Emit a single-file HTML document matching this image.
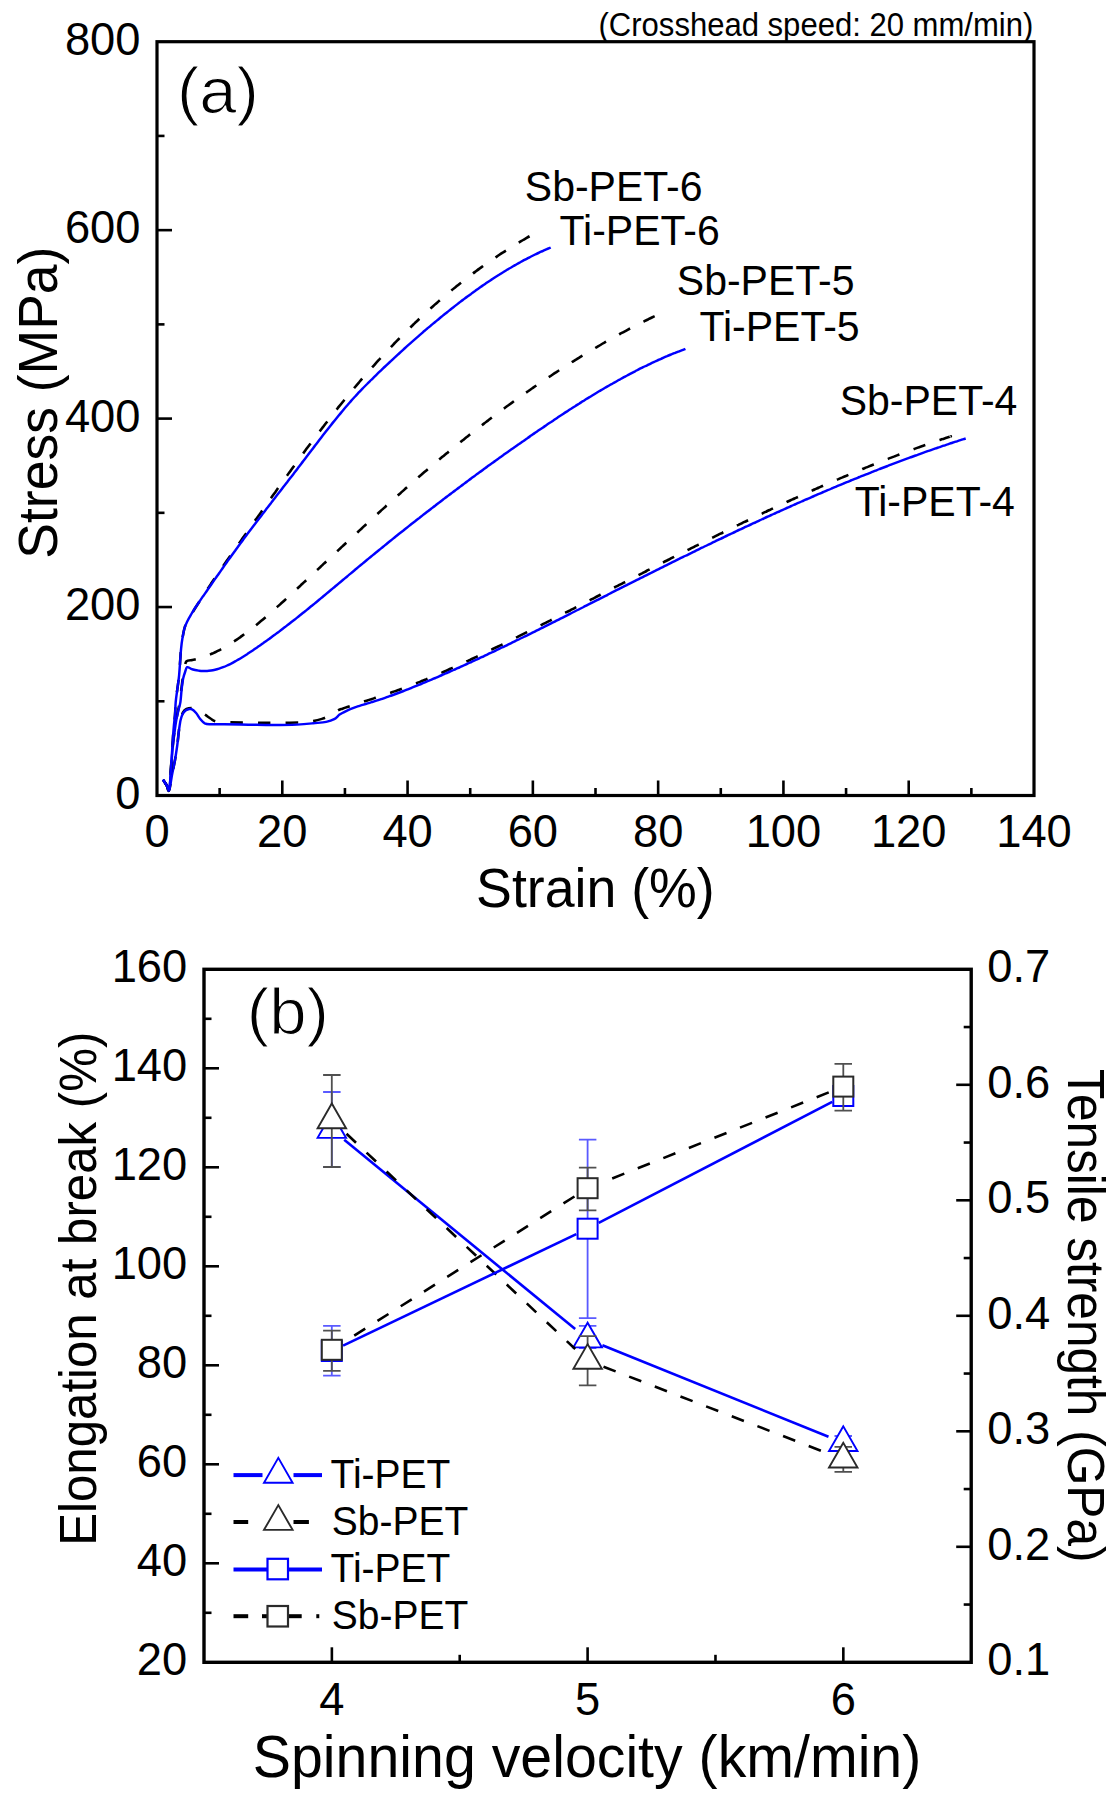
<!DOCTYPE html>
<html><head><meta charset="utf-8"><style>
html,body{margin:0;padding:0;background:#fff;}
svg{display:block;}
text{font-family:"Liberation Sans", sans-serif;stroke:#fff;}
</style></head><body>
<svg width="1114" height="1793" viewBox="0 0 1114 1793">
<rect width="1114" height="1793" fill="#fff"/>
<line x1="157.00" y1="701.27" x2="164.50" y2="701.27" stroke="#000" stroke-width="2.6" />
<line x1="157.00" y1="607.05" x2="172.00" y2="607.05" stroke="#000" stroke-width="2.6" />
<line x1="157.00" y1="512.83" x2="164.50" y2="512.83" stroke="#000" stroke-width="2.6" />
<line x1="157.00" y1="418.60" x2="172.00" y2="418.60" stroke="#000" stroke-width="2.6" />
<line x1="157.00" y1="324.38" x2="164.50" y2="324.38" stroke="#000" stroke-width="2.6" />
<line x1="157.00" y1="230.15" x2="172.00" y2="230.15" stroke="#000" stroke-width="2.6" />
<line x1="157.00" y1="135.92" x2="164.50" y2="135.92" stroke="#000" stroke-width="2.6" />
<line x1="219.64" y1="795.50" x2="219.64" y2="788.00" stroke="#000" stroke-width="2.6" />
<line x1="282.29" y1="795.50" x2="282.29" y2="780.50" stroke="#000" stroke-width="2.6" />
<line x1="344.93" y1="795.50" x2="344.93" y2="788.00" stroke="#000" stroke-width="2.6" />
<line x1="407.57" y1="795.50" x2="407.57" y2="780.50" stroke="#000" stroke-width="2.6" />
<line x1="470.21" y1="795.50" x2="470.21" y2="788.00" stroke="#000" stroke-width="2.6" />
<line x1="532.86" y1="795.50" x2="532.86" y2="780.50" stroke="#000" stroke-width="2.6" />
<line x1="595.50" y1="795.50" x2="595.50" y2="788.00" stroke="#000" stroke-width="2.6" />
<line x1="658.14" y1="795.50" x2="658.14" y2="780.50" stroke="#000" stroke-width="2.6" />
<line x1="720.79" y1="795.50" x2="720.79" y2="788.00" stroke="#000" stroke-width="2.6" />
<line x1="783.43" y1="795.50" x2="783.43" y2="780.50" stroke="#000" stroke-width="2.6" />
<line x1="846.07" y1="795.50" x2="846.07" y2="788.00" stroke="#000" stroke-width="2.6" />
<line x1="908.71" y1="795.50" x2="908.71" y2="780.50" stroke="#000" stroke-width="2.6" />
<line x1="971.36" y1="795.50" x2="971.36" y2="788.00" stroke="#000" stroke-width="2.6" />
<text transform="translate(140.50,808.70) scale(1,1.04)" font-size="45.3" text-anchor="end" fill="#000" stroke-width="0.0">0</text>
<text transform="translate(140.50,620.25) scale(1,1.04)" font-size="45.3" text-anchor="end" fill="#000" stroke-width="0.0">200</text>
<text transform="translate(140.50,431.80) scale(1,1.04)" font-size="45.3" text-anchor="end" fill="#000" stroke-width="0.0">400</text>
<text transform="translate(140.50,243.35) scale(1,1.04)" font-size="45.3" text-anchor="end" fill="#000" stroke-width="0.0">600</text>
<text transform="translate(140.50,54.90) scale(1,1.04)" font-size="45.3" text-anchor="end" fill="#000" stroke-width="0.0">800</text>
<text transform="translate(157.00,847.20) scale(1,1.04)" font-size="45.3" text-anchor="middle" fill="#000" stroke-width="0.0">0</text>
<text transform="translate(282.29,847.20) scale(1,1.04)" font-size="45.3" text-anchor="middle" fill="#000" stroke-width="0.0">20</text>
<text transform="translate(407.57,847.20) scale(1,1.04)" font-size="45.3" text-anchor="middle" fill="#000" stroke-width="0.0">40</text>
<text transform="translate(532.86,847.20) scale(1,1.04)" font-size="45.3" text-anchor="middle" fill="#000" stroke-width="0.0">60</text>
<text transform="translate(658.14,847.20) scale(1,1.04)" font-size="45.3" text-anchor="middle" fill="#000" stroke-width="0.0">80</text>
<text transform="translate(783.43,847.20) scale(1,1.04)" font-size="45.3" text-anchor="middle" fill="#000" stroke-width="0.0">100</text>
<text transform="translate(908.71,847.20) scale(1,1.04)" font-size="45.3" text-anchor="middle" fill="#000" stroke-width="0.0">120</text>
<text transform="translate(1034.00,847.20) scale(1,1.04)" font-size="45.3" text-anchor="middle" fill="#000" stroke-width="0.0">140</text>
<text transform="translate(57.00,558.70) rotate(-90) scale(1,1.04)" font-size="53.5" text-anchor="start" fill="#000" stroke-width="0.0">Stress (MPa)</text>
<text transform="translate(476.10,907.00) scale(1,1.04)" font-size="53.7" text-anchor="start" fill="#000" stroke-width="0.0">Strain (%)</text>
<text transform="translate(177.0,113.2) scale(1.022,1)" font-size="65.5" stroke-width="1.2">(a)</text>
<text transform="translate(598.50,35.50) scale(1,1.04)" font-size="31.06" text-anchor="start" fill="#000" stroke-width="0.0">(Crosshead speed: 20 mm/min)</text>
<text transform="translate(524.80,201.00) scale(1,1.04)" font-size="41" text-anchor="start" fill="#000" stroke-width="0.0">Sb-PET-6</text>
<text transform="translate(559.60,244.50) scale(1,1.04)" font-size="41" text-anchor="start" fill="#000" stroke-width="0.0">Ti-PET-6</text>
<text transform="translate(676.80,294.80) scale(1,1.04)" font-size="41" text-anchor="start" fill="#000" stroke-width="0.0">Sb-PET-5</text>
<text transform="translate(699.50,341.20) scale(1,1.04)" font-size="41" text-anchor="start" fill="#000" stroke-width="0.0">Ti-PET-5</text>
<text transform="translate(839.70,415.00) scale(1,1.04)" font-size="41" text-anchor="start" fill="#000" stroke-width="0.0">Sb-PET-4</text>
<text transform="translate(854.70,515.70) scale(1,1.04)" font-size="41" text-anchor="start" fill="#000" stroke-width="0.0">Ti-PET-4</text>
<path d="M163.0,779.6 C163.6,780.5 165.4,783.5 166.5,785.0 C167.6,786.5 168.5,790.5 169.4,788.8 C170.3,787.1 171.1,779.8 172.0,775.0 C172.9,770.2 174.1,765.0 175.0,760.0 C175.9,755.0 176.6,750.0 177.3,745.0 C178.0,740.0 178.4,734.2 179.0,730.0 C179.6,725.8 179.9,722.9 180.6,720.0 C181.3,717.1 182.0,714.3 183.0,712.5 C184.0,710.7 184.9,709.7 186.5,709.0 C188.1,708.3 190.6,707.9 192.5,708.1 C194.4,708.4 195.9,709.4 198.0,710.5 C200.1,711.6 202.7,713.3 204.8,714.6 C206.9,715.9 208.6,717.3 210.5,718.5 C212.4,719.7 213.2,721.0 216.5,721.6 C219.8,722.2 222.8,722.2 230.0,722.4 C237.2,722.6 250.0,722.8 260.0,722.8 C270.0,722.8 281.7,722.9 290.0,722.7 C298.3,722.5 304.5,722.3 310.0,721.6 C315.5,720.9 319.3,719.7 322.8,718.6 C326.3,717.5 328.4,716.2 331.0,714.8 C333.6,713.4 336.6,711.2 338.5,710.2 C340.4,709.2 341.2,709.2 342.5,708.7 C343.8,708.2 345.2,707.7 346.5,707.3 C347.8,706.8 349.2,706.3 350.5,705.9 C351.8,705.4 353.2,705.0 354.5,704.6 C355.8,704.1 357.2,703.7 358.5,703.3 C359.8,702.9 361.2,702.4 362.5,702.0 C363.8,701.6 365.2,701.1 366.5,700.7 C367.8,700.3 369.2,699.9 370.5,699.4 C371.8,699.0 373.2,698.6 374.5,698.1 C375.8,697.7 377.2,697.3 378.5,696.8 C379.8,696.4 381.2,695.9 382.5,695.5 C383.8,695.1 385.2,694.6 386.5,694.2 C387.8,693.7 389.2,693.2 390.5,692.8 C391.8,692.3 393.2,691.9 394.5,691.4 C395.8,690.9 397.2,690.5 398.5,690.0 C399.8,689.5 401.2,689.0 402.5,688.5 C403.8,688.0 405.2,687.5 406.5,687.0 C407.8,686.5 409.2,686.0 410.5,685.5 C411.8,685.0 413.2,684.5 414.5,684.0 C415.8,683.5 417.2,682.9 418.5,682.4 C419.8,681.9 421.2,681.3 422.5,680.8 C423.8,680.3 425.2,679.7 426.5,679.2 C427.8,678.6 429.2,678.1 430.5,677.5 C431.8,676.9 433.2,676.4 434.5,675.8 C435.8,675.3 437.2,674.7 438.5,674.1 C439.8,673.5 441.2,673.0 442.5,672.4 C443.8,671.8 445.2,671.2 446.5,670.6 C447.8,670.0 449.2,669.4 450.5,668.8 C451.8,668.2 453.2,667.6 454.5,667.0 C455.8,666.4 457.2,665.8 458.5,665.2 C459.8,664.6 461.2,664.0 462.5,663.4 C463.8,662.8 465.2,662.2 466.5,661.5 C467.8,660.9 469.2,660.3 470.5,659.7 C471.8,659.0 473.2,658.4 474.5,657.8 C475.8,657.2 477.2,656.5 478.5,655.9 C479.8,655.3 481.2,654.6 482.5,654.0 C483.8,653.3 485.2,652.7 486.5,652.1 C487.8,651.4 489.2,650.8 490.5,650.1 C491.8,649.5 493.2,648.9 494.5,648.2 C495.8,647.6 497.2,646.9 498.5,646.3 C499.8,645.6 501.2,645.0 502.5,644.3 C503.8,643.7 505.2,643.0 506.5,642.4 C507.8,641.7 509.2,641.0 510.5,640.4 C511.8,639.7 513.2,639.1 514.5,638.4 C515.8,637.8 517.2,637.1 518.5,636.4 C519.8,635.8 521.2,635.1 522.5,634.4 C523.8,633.8 525.2,633.1 526.5,632.4 C527.8,631.8 529.2,631.1 530.5,630.4 C531.8,629.8 533.2,629.1 534.5,628.4 C535.8,627.8 537.2,627.1 538.5,626.4 C539.8,625.8 541.2,625.1 542.5,624.4 C543.8,623.7 545.2,623.1 546.5,622.4 C547.8,621.7 549.2,621.0 550.5,620.4 C551.8,619.7 553.2,619.0 554.5,618.3 C555.8,617.6 557.2,617.0 558.5,616.3 C559.8,615.6 561.2,614.9 562.5,614.2 C563.8,613.6 565.2,612.9 566.5,612.2 C567.8,611.5 569.2,610.8 570.5,610.2 C571.8,609.5 573.2,608.8 574.5,608.1 C575.8,607.4 577.2,606.7 578.5,606.1 C579.8,605.4 581.2,604.7 582.5,604.0 C583.8,603.3 585.2,602.6 586.5,601.9 C587.8,601.3 589.2,600.6 590.5,599.9 C591.8,599.2 593.2,598.5 594.5,597.8 C595.8,597.1 597.2,596.4 598.5,595.8 C599.8,595.1 601.2,594.4 602.5,593.7 C603.8,593.0 605.2,592.3 606.5,591.6 C607.8,590.9 609.2,590.2 610.5,589.6 C611.8,588.9 613.2,588.2 614.5,587.5 C615.8,586.8 617.2,586.1 618.5,585.4 C619.8,584.7 621.2,584.1 622.5,583.4 C623.8,582.7 625.2,582.0 626.5,581.3 C627.8,580.6 629.2,579.9 630.5,579.2 C631.8,578.5 633.2,577.9 634.5,577.2 C635.8,576.5 637.2,575.8 638.5,575.1 C639.8,574.4 641.2,573.7 642.5,573.1 C643.8,572.4 645.2,571.7 646.5,571.0 C647.8,570.3 649.2,569.6 650.5,568.9 C651.8,568.3 653.2,567.6 654.5,566.9 C655.8,566.2 657.2,565.5 658.5,564.8 C659.8,564.2 661.2,563.5 662.5,562.8 C663.8,562.1 665.2,561.4 666.5,560.8 C667.8,560.1 669.2,559.4 670.5,558.7 C671.8,558.0 673.2,557.4 674.5,556.7 C675.8,556.0 677.2,555.3 678.5,554.7 C679.8,554.0 681.2,553.3 682.5,552.6 C683.8,552.0 685.2,551.3 686.5,550.6 C687.8,549.9 689.2,549.3 690.5,548.6 C691.8,547.9 693.2,547.3 694.5,546.6 C695.8,545.9 697.2,545.3 698.5,544.6 C699.8,543.9 701.2,543.3 702.5,542.6 C703.8,541.9 705.2,541.3 706.5,540.6 C707.8,539.9 709.2,539.3 710.5,538.6 C711.8,537.9 713.2,537.3 714.5,536.6 C715.8,536.0 717.2,535.3 718.5,534.6 C719.8,534.0 721.2,533.3 722.5,532.7 C723.8,532.0 725.2,531.4 726.5,530.7 C727.8,530.1 729.2,529.4 730.5,528.8 C731.8,528.1 733.2,527.5 734.5,526.8 C735.8,526.2 737.2,525.5 738.5,524.9 C739.8,524.2 741.2,523.6 742.5,522.9 C743.8,522.3 745.2,521.6 746.5,521.0 C747.8,520.4 749.2,519.7 750.5,519.1 C751.8,518.4 753.2,517.8 754.5,517.2 C755.8,516.5 757.2,515.9 758.5,515.3 C759.8,514.6 761.2,514.0 762.5,513.4 C763.8,512.7 765.2,512.1 766.5,511.5 C767.8,510.8 769.2,510.2 770.5,509.6 C771.8,509.0 773.2,508.3 774.5,507.7 C775.8,507.1 777.2,506.5 778.5,505.9 C779.8,505.2 781.2,504.6 782.5,504.0 C783.8,503.4 785.2,502.8 786.5,502.2 C787.8,501.5 789.2,500.9 790.5,500.3 C791.8,499.7 793.2,499.1 794.5,498.5 C795.8,497.9 797.2,497.3 798.5,496.7 C799.8,496.1 801.2,495.5 802.5,494.9 C803.8,494.3 805.2,493.7 806.5,493.1 C807.8,492.5 809.2,491.9 810.5,491.3 C811.8,490.7 813.2,490.1 814.5,489.5 C815.8,488.9 817.2,488.3 818.5,487.7 C819.8,487.1 821.2,486.6 822.5,486.0 C823.8,485.4 825.2,484.8 826.5,484.2 C827.8,483.6 829.2,483.1 830.5,482.5 C831.8,481.9 833.2,481.3 834.5,480.8 C835.8,480.2 837.2,479.6 838.5,479.1 C839.8,478.5 841.2,477.9 842.5,477.4 C843.8,476.8 845.2,476.2 846.5,475.7 C847.8,475.1 849.2,474.5 850.5,474.0 C851.8,473.4 853.2,472.9 854.5,472.3 C855.8,471.8 857.2,471.2 858.5,470.7 C859.8,470.1 861.2,469.6 862.5,469.0 C863.8,468.5 865.2,467.9 866.5,467.4 C867.8,466.9 869.2,466.3 870.5,465.8 C871.8,465.2 873.2,464.7 874.5,464.2 C875.8,463.6 877.2,463.1 878.5,462.6 C879.8,462.1 881.2,461.5 882.5,461.0 C883.8,460.5 885.2,460.0 886.5,459.4 C887.8,458.9 889.2,458.4 890.5,457.9 C891.8,457.4 893.2,456.9 894.5,456.4 C895.8,455.8 897.2,455.3 898.5,454.8 C899.8,454.3 901.2,453.8 902.5,453.3 C903.8,452.8 905.2,452.3 906.5,451.8 C907.8,451.3 909.2,450.8 910.5,450.4 C911.8,449.9 913.2,449.4 914.5,448.9 C915.8,448.4 917.2,447.9 918.5,447.4 C919.8,447.0 921.2,446.5 922.5,446.0 C923.8,445.5 925.2,445.1 926.5,444.6 C927.8,444.1 929.2,443.6 930.5,443.2 C931.8,442.7 933.2,442.3 934.5,441.8 C935.8,441.3 937.2,440.9 938.5,440.4 C939.8,440.0 941.2,439.5 942.5,439.1 C943.8,438.6 945.2,438.2 946.5,437.7 C947.8,437.3 949.8,436.6 950.5,436.4 C951.2,436.2 950.6,436.4 950.6,436.4" fill="none" stroke="#000000" stroke-width="2.6" stroke-linejoin="round" stroke-dasharray="12.5 15.014" stroke-dashoffset="22.83"/>
<path d="M163.0,779.6 C163.6,780.5 165.4,783.5 166.5,785.0 C167.6,786.5 168.5,790.5 169.4,788.8 C170.3,787.1 171.1,779.8 172.0,775.0 C172.9,770.2 174.1,765.0 175.0,760.0 C175.9,755.0 176.6,750.0 177.3,745.0 C178.0,740.0 178.4,734.2 179.0,730.0 C179.6,725.8 180.0,722.7 180.6,720.0 C181.2,717.3 182.0,715.4 182.8,713.8 C183.6,712.2 184.6,711.3 185.5,710.5 C186.4,709.7 187.5,709.4 188.5,709.2 C189.5,709.0 190.2,708.6 191.5,709.2 C192.8,709.8 194.7,711.4 196.1,713.0 C197.5,714.6 198.8,717.3 200.2,719.0 C201.6,720.7 203.1,722.4 204.8,723.3 C206.6,724.2 207.5,724.1 210.7,724.3 C213.9,724.4 217.9,724.1 224.2,724.2 C230.5,724.3 240.4,724.6 248.5,724.7 C256.6,724.8 264.6,725.0 272.7,725.0 C280.8,725.0 290.2,724.9 296.9,724.6 C303.6,724.3 308.2,723.8 313.1,723.3 C318.0,722.8 322.7,722.6 326.2,721.9 C329.7,721.2 332.0,720.4 334.2,719.2 C336.4,718.0 338.0,715.8 339.6,714.6 C341.2,713.5 342.3,713.0 343.6,712.3 C344.9,711.6 346.3,710.9 347.6,710.3 C348.9,709.7 350.3,709.1 351.6,708.6 C352.9,708.1 354.3,707.6 355.6,707.1 C356.9,706.7 358.3,706.2 359.6,705.8 C360.9,705.4 362.3,705.0 363.6,704.6 C364.9,704.2 366.3,703.8 367.6,703.4 C368.9,703.0 370.3,702.6 371.6,702.2 C372.9,701.8 374.3,701.4 375.6,700.9 C376.9,700.5 378.3,700.1 379.6,699.6 C380.9,699.2 382.3,698.8 383.6,698.3 C384.9,697.8 386.3,697.4 387.6,696.9 C388.9,696.4 390.3,696.0 391.6,695.5 C392.9,695.0 394.3,694.5 395.6,694.0 C396.9,693.5 398.3,693.0 399.6,692.5 C400.9,692.0 402.3,691.5 403.6,691.0 C404.9,690.5 406.3,690.0 407.6,689.4 C408.9,688.9 410.3,688.4 411.6,687.8 C412.9,687.3 414.3,686.8 415.6,686.2 C416.9,685.7 418.3,685.1 419.6,684.6 C420.9,684.0 422.3,683.5 423.6,682.9 C424.9,682.4 426.3,681.8 427.6,681.2 C428.9,680.7 430.3,680.1 431.6,679.6 C432.9,679.0 434.3,678.4 435.6,677.8 C436.9,677.3 438.3,676.7 439.6,676.1 C440.9,675.5 442.3,675.0 443.6,674.4 C444.9,673.8 446.3,673.2 447.6,672.6 C448.9,672.0 450.3,671.5 451.6,670.9 C452.9,670.3 454.3,669.7 455.6,669.1 C456.9,668.5 458.3,667.9 459.6,667.3 C460.9,666.7 462.3,666.1 463.6,665.5 C464.9,664.9 466.3,664.3 467.6,663.7 C468.9,663.1 470.3,662.4 471.6,661.8 C472.9,661.2 474.3,660.6 475.6,660.0 C476.9,659.4 478.3,658.7 479.6,658.1 C480.9,657.5 482.3,656.9 483.6,656.3 C484.9,655.6 486.3,655.0 487.6,654.4 C488.9,653.7 490.3,653.1 491.6,652.5 C492.9,651.9 494.3,651.2 495.6,650.6 C496.9,649.9 498.3,649.3 499.6,648.7 C500.9,648.0 502.3,647.4 503.6,646.8 C504.9,646.1 506.3,645.5 507.6,644.8 C508.9,644.2 510.3,643.5 511.6,642.9 C512.9,642.2 514.3,641.6 515.6,640.9 C516.9,640.3 518.3,639.6 519.6,639.0 C520.9,638.3 522.3,637.7 523.6,637.0 C524.9,636.4 526.3,635.7 527.6,635.1 C528.9,634.4 530.3,633.7 531.6,633.1 C532.9,632.4 534.3,631.8 535.6,631.1 C536.9,630.4 538.3,629.8 539.6,629.1 C540.9,628.4 542.3,627.8 543.6,627.1 C544.9,626.5 546.3,625.8 547.6,625.1 C548.9,624.5 550.3,623.8 551.6,623.1 C552.9,622.4 554.3,621.8 555.6,621.1 C556.9,620.4 558.3,619.8 559.6,619.1 C560.9,618.4 562.3,617.8 563.6,617.1 C564.9,616.4 566.3,615.7 567.6,615.1 C568.9,614.4 570.3,613.7 571.6,613.0 C572.9,612.4 574.3,611.7 575.6,611.0 C576.9,610.3 578.3,609.7 579.6,609.0 C580.9,608.3 582.3,607.6 583.6,607.0 C584.9,606.3 586.3,605.6 587.6,604.9 C588.9,604.3 590.3,603.6 591.6,602.9 C592.9,602.2 594.3,601.5 595.6,600.9 C596.9,600.2 598.3,599.5 599.6,598.8 C600.9,598.2 602.3,597.5 603.6,596.8 C604.9,596.1 606.3,595.5 607.6,594.8 C608.9,594.1 610.3,593.4 611.6,592.7 C612.9,592.1 614.3,591.4 615.6,590.7 C616.9,590.0 618.3,589.4 619.6,588.7 C620.9,588.0 622.3,587.3 623.6,586.7 C624.9,586.0 626.3,585.3 627.6,584.6 C628.9,584.0 630.3,583.3 631.6,582.6 C632.9,582.0 634.3,581.3 635.6,580.6 C636.9,579.9 638.3,579.3 639.6,578.6 C640.9,577.9 642.3,577.3 643.6,576.6 C644.9,575.9 646.3,575.3 647.6,574.6 C648.9,573.9 650.3,573.2 651.6,572.6 C652.9,571.9 654.3,571.2 655.6,570.6 C656.9,569.9 658.3,569.3 659.6,568.6 C660.9,567.9 662.3,567.3 663.6,566.6 C664.9,565.9 666.3,565.3 667.6,564.6 C668.9,564.0 670.3,563.3 671.6,562.6 C672.9,562.0 674.3,561.3 675.6,560.7 C676.9,560.0 678.3,559.3 679.6,558.7 C680.9,558.0 682.3,557.4 683.6,556.7 C684.9,556.1 686.3,555.4 687.6,554.8 C688.9,554.1 690.3,553.4 691.6,552.8 C692.9,552.1 694.3,551.5 695.6,550.8 C696.9,550.2 698.3,549.5 699.6,548.9 C700.9,548.2 702.3,547.6 703.6,547.0 C704.9,546.3 706.3,545.7 707.6,545.0 C708.9,544.4 710.3,543.7 711.6,543.1 C712.9,542.4 714.3,541.8 715.6,541.2 C716.9,540.5 718.3,539.9 719.6,539.2 C720.9,538.6 722.3,538.0 723.6,537.3 C724.9,536.7 726.3,536.1 727.6,535.4 C728.9,534.8 730.3,534.2 731.6,533.5 C732.9,532.9 734.3,532.3 735.6,531.6 C736.9,531.0 738.3,530.4 739.6,529.7 C740.9,529.1 742.3,528.5 743.6,527.9 C744.9,527.2 746.3,526.6 747.6,526.0 C748.9,525.4 750.3,524.8 751.6,524.1 C752.9,523.5 754.3,522.9 755.6,522.3 C756.9,521.7 758.3,521.0 759.6,520.4 C760.9,519.8 762.3,519.2 763.6,518.6 C764.9,518.0 766.3,517.4 767.6,516.7 C768.9,516.1 770.3,515.5 771.6,514.9 C772.9,514.3 774.3,513.7 775.6,513.1 C776.9,512.5 778.3,511.9 779.6,511.3 C780.9,510.7 782.3,510.1 783.6,509.5 C784.9,508.9 786.3,508.3 787.6,507.7 C788.9,507.1 790.3,506.5 791.6,505.9 C792.9,505.3 794.3,504.7 795.6,504.1 C796.9,503.5 798.3,502.9 799.6,502.4 C800.9,501.8 802.3,501.2 803.6,500.6 C804.9,500.0 806.3,499.4 807.6,498.8 C808.9,498.3 810.3,497.7 811.6,497.1 C812.9,496.5 814.3,496.0 815.6,495.4 C816.9,494.8 818.3,494.2 819.6,493.7 C820.9,493.1 822.3,492.5 823.6,491.9 C824.9,491.4 826.3,490.8 827.6,490.2 C828.9,489.7 830.3,489.1 831.6,488.5 C832.9,488.0 834.3,487.4 835.6,486.9 C836.9,486.3 838.3,485.7 839.6,485.2 C840.9,484.6 842.3,484.1 843.6,483.5 C844.9,483.0 846.3,482.4 847.6,481.9 C848.9,481.3 850.3,480.8 851.6,480.2 C852.9,479.7 854.3,479.1 855.6,478.6 C856.9,478.1 858.3,477.5 859.6,477.0 C860.9,476.4 862.3,475.9 863.6,475.4 C864.9,474.8 866.3,474.3 867.6,473.8 C868.9,473.2 870.3,472.7 871.6,472.2 C872.9,471.7 874.3,471.1 875.6,470.6 C876.9,470.1 878.3,469.6 879.6,469.0 C880.9,468.5 882.3,468.0 883.6,467.5 C884.9,467.0 886.3,466.5 887.6,466.0 C888.9,465.4 890.3,464.9 891.6,464.4 C892.9,463.9 894.3,463.4 895.6,462.9 C896.9,462.4 898.3,461.9 899.6,461.4 C900.9,460.9 902.3,460.4 903.6,459.9 C904.9,459.4 906.3,458.9 907.6,458.4 C908.9,457.9 910.3,457.5 911.6,457.0 C912.9,456.5 914.3,456.0 915.6,455.5 C916.9,455.0 918.3,454.6 919.6,454.1 C920.9,453.6 922.3,453.1 923.6,452.6 C924.9,452.2 926.3,451.7 927.6,451.2 C928.9,450.8 930.3,450.3 931.6,449.8 C932.9,449.4 934.3,448.9 935.6,448.4 C936.9,448.0 938.3,447.5 939.6,447.1 C940.9,446.6 942.3,446.2 943.6,445.7 C944.9,445.3 946.3,444.8 947.6,444.4 C948.9,443.9 950.3,443.5 951.6,443.0 C952.9,442.6 954.3,442.2 955.6,441.7 C956.9,441.3 958.3,440.8 959.6,440.4 C960.9,440.0 962.6,439.4 963.6,439.1 C964.6,438.8 965.4,438.6 965.7,438.5" fill="none" stroke="#0000ff" stroke-width="2.45" stroke-linejoin="round"/>
<path d="M163.0,779.6 C163.6,780.5 165.4,783.5 166.5,785.0 C167.6,786.5 168.4,794.6 169.4,788.8 C170.4,783.0 171.3,760.6 172.3,750.0 C173.3,739.4 174.4,731.3 175.3,725.0 C176.2,718.7 177.0,716.2 177.8,712.0 C178.6,707.8 179.6,704.0 180.2,700.0 C180.8,696.0 181.0,691.8 181.5,688.0 C182.0,684.2 182.4,680.5 183.0,677.0 C183.6,673.5 184.2,669.6 184.8,667.0 C185.4,664.4 185.2,662.5 186.5,661.3 C187.8,660.1 190.8,660.4 192.4,660.0 C194.1,659.6 195.1,659.4 196.4,659.1 C197.7,658.8 199.1,658.4 200.4,658.0 C201.7,657.6 203.1,657.1 204.4,656.7 C205.7,656.2 207.1,655.7 208.4,655.2 C209.7,654.6 211.1,654.1 212.4,653.5 C213.7,652.9 215.1,652.3 216.4,651.6 C217.7,650.9 219.1,650.3 220.4,649.6 C221.7,648.8 223.1,648.1 224.4,647.4 C225.7,646.6 227.1,645.8 228.4,645.0 C229.7,644.2 231.1,643.3 232.4,642.5 C233.7,641.6 235.1,640.8 236.4,639.9 C237.7,639.0 239.1,638.0 240.4,637.1 C241.7,636.1 243.1,635.2 244.4,634.2 C245.7,633.2 247.1,632.2 248.4,631.2 C249.7,630.2 251.1,629.1 252.4,628.1 C253.7,627.0 255.1,626.0 256.4,624.9 C257.7,623.8 259.1,622.7 260.4,621.6 C261.7,620.5 263.1,619.4 264.4,618.2 C265.7,617.1 267.1,615.9 268.4,614.8 C269.7,613.6 271.1,612.5 272.4,611.3 C273.7,610.1 275.1,608.9 276.4,607.7 C277.7,606.5 279.1,605.3 280.4,604.1 C281.7,602.9 283.1,601.7 284.4,600.5 C285.7,599.3 287.1,598.0 288.4,596.8 C289.7,595.6 291.1,594.3 292.4,593.1 C293.7,591.9 295.1,590.6 296.4,589.4 C297.7,588.2 299.1,586.9 300.4,585.7 C301.7,584.4 303.1,583.2 304.4,581.9 C305.7,580.7 307.1,579.5 308.4,578.2 C309.7,577.0 311.1,575.7 312.4,574.5 C313.7,573.2 315.1,572.0 316.4,570.7 C317.7,569.5 319.1,568.2 320.4,567.0 C321.7,565.7 323.1,564.5 324.4,563.2 C325.7,562.0 327.1,560.7 328.4,559.5 C329.7,558.3 331.1,557.0 332.4,555.8 C333.7,554.5 335.1,553.3 336.4,552.0 C337.7,550.8 339.1,549.5 340.4,548.3 C341.7,547.0 343.1,545.8 344.4,544.5 C345.7,543.3 347.1,542.0 348.4,540.8 C349.7,539.6 351.1,538.3 352.4,537.1 C353.7,535.8 355.1,534.6 356.4,533.4 C357.7,532.1 359.1,530.9 360.4,529.6 C361.7,528.4 363.1,527.2 364.4,525.9 C365.7,524.7 367.1,523.5 368.4,522.2 C369.7,521.0 371.1,519.8 372.4,518.6 C373.7,517.3 375.1,516.1 376.4,514.9 C377.7,513.7 379.1,512.4 380.4,511.2 C381.7,510.0 383.1,508.8 384.4,507.6 C385.7,506.4 387.1,505.2 388.4,503.9 C389.7,502.7 391.1,501.5 392.4,500.3 C393.7,499.1 395.1,497.9 396.4,496.7 C397.7,495.5 399.1,494.3 400.4,493.2 C401.7,492.0 403.1,490.8 404.4,489.6 C405.7,488.4 407.1,487.2 408.4,486.0 C409.7,484.9 411.1,483.7 412.4,482.5 C413.7,481.4 415.1,480.2 416.4,479.0 C417.7,477.9 419.1,476.7 420.4,475.6 C421.7,474.4 423.1,473.2 424.4,472.1 C425.7,471.0 427.1,469.8 428.4,468.7 C429.7,467.5 431.1,466.4 432.4,465.3 C433.7,464.1 435.1,463.0 436.4,461.9 C437.7,460.8 439.1,459.6 440.4,458.5 C441.7,457.4 443.1,456.3 444.4,455.2 C445.7,454.1 447.1,453.0 448.4,451.9 C449.7,450.8 451.1,449.7 452.4,448.6 C453.7,447.5 455.1,446.4 456.4,445.4 C457.7,444.3 459.1,443.2 460.4,442.1 C461.7,441.0 463.1,440.0 464.4,438.9 C465.7,437.8 467.1,436.8 468.4,435.7 C469.7,434.7 471.1,433.6 472.4,432.6 C473.7,431.5 475.1,430.5 476.4,429.4 C477.7,428.4 479.1,427.4 480.4,426.3 C481.7,425.3 483.1,424.3 484.4,423.2 C485.7,422.2 487.1,421.2 488.4,420.2 C489.7,419.2 491.1,418.2 492.4,417.1 C493.7,416.1 495.1,415.1 496.4,414.1 C497.7,413.1 499.1,412.1 500.4,411.2 C501.7,410.2 503.1,409.2 504.4,408.2 C505.7,407.2 507.1,406.2 508.4,405.3 C509.7,404.3 511.1,403.3 512.4,402.4 C513.7,401.4 515.1,400.4 516.4,399.5 C517.7,398.5 519.1,397.6 520.4,396.6 C521.7,395.7 523.1,394.7 524.4,393.8 C525.7,392.8 527.1,391.9 528.4,391.0 C529.7,390.0 531.1,389.1 532.4,388.2 C533.7,387.3 535.1,386.4 536.4,385.4 C537.7,384.5 539.1,383.6 540.4,382.7 C541.7,381.8 543.1,380.9 544.4,380.0 C545.7,379.1 547.1,378.2 548.4,377.3 C549.7,376.5 551.1,375.6 552.4,374.7 C553.7,373.8 555.1,372.9 556.4,372.1 C557.7,371.2 559.1,370.3 560.4,369.5 C561.7,368.6 563.1,367.8 564.4,366.9 C565.7,366.1 567.1,365.2 568.4,364.4 C569.7,363.5 571.1,362.7 572.4,361.8 C573.7,361.0 575.1,360.2 576.4,359.4 C577.7,358.5 579.1,357.7 580.4,356.9 C581.7,356.1 583.1,355.3 584.4,354.5 C585.7,353.7 587.1,352.8 588.4,352.0 C589.7,351.3 591.1,350.5 592.4,349.7 C593.7,348.9 595.1,348.1 596.4,347.3 C597.7,346.5 599.1,345.8 600.4,345.0 C601.7,344.2 603.1,343.4 604.4,342.7 C605.7,341.9 607.1,341.2 608.4,340.4 C609.7,339.7 611.1,338.9 612.4,338.2 C613.7,337.4 615.1,336.7 616.4,335.9 C617.7,335.2 619.1,334.5 620.4,333.7 C621.7,333.0 623.1,332.3 624.4,331.6 C625.7,330.9 627.1,330.2 628.4,329.4 C629.7,328.7 631.1,328.0 632.4,327.3 C633.7,326.6 635.1,325.9 636.4,325.3 C637.7,324.6 639.1,323.9 640.4,323.2 C641.7,322.5 643.1,321.8 644.4,321.2 C645.7,320.5 647.1,319.8 648.4,319.2 C649.7,318.5 651.1,317.8 652.4,317.2 C653.7,316.6 655.6,315.7 656.2,315.4" fill="none" stroke="#000000" stroke-width="2.6" stroke-linejoin="round" stroke-dasharray="12.5 14.940" stroke-dashoffset="23.80"/>
<path d="M163.0,779.6 C163.6,780.5 165.4,783.5 166.5,785.0 C167.6,786.5 168.4,794.6 169.4,788.8 C170.4,783.0 171.5,760.6 172.5,750.0 C173.5,739.4 174.6,731.3 175.5,725.0 C176.4,718.7 177.2,715.8 178.0,712.0 C178.8,708.2 179.8,706.0 180.4,702.1 C181.0,698.2 181.2,692.6 181.7,688.7 C182.1,684.8 182.5,681.5 183.1,678.7 C183.7,675.9 184.4,673.9 185.1,672.0 C185.8,670.1 186.1,667.7 187.1,667.2 C188.1,666.7 189.8,668.3 191.1,668.8 C192.4,669.3 193.8,669.7 195.1,670.0 C196.4,670.3 197.8,670.5 199.1,670.7 C200.4,670.9 201.8,671.0 203.1,671.0 C204.4,671.1 205.8,671.0 207.1,670.9 C208.4,670.9 209.8,670.7 211.1,670.5 C212.4,670.3 213.8,670.0 215.1,669.7 C216.4,669.4 217.8,669.0 219.1,668.6 C220.4,668.2 221.8,667.7 223.1,667.2 C224.4,666.7 225.8,666.1 227.1,665.5 C228.4,664.9 229.8,664.2 231.1,663.6 C232.4,662.9 233.8,662.2 235.1,661.4 C236.4,660.7 237.8,659.9 239.1,659.2 C240.4,658.4 241.8,657.5 243.1,656.7 C244.4,655.9 245.8,655.0 247.1,654.2 C248.4,653.3 249.8,652.4 251.1,651.5 C252.4,650.6 253.8,649.7 255.1,648.8 C256.4,647.9 257.8,647.0 259.1,646.1 C260.4,645.1 261.8,644.2 263.1,643.3 C264.4,642.3 265.8,641.4 267.1,640.4 C268.4,639.4 269.8,638.5 271.1,637.5 C272.4,636.5 273.8,635.5 275.1,634.6 C276.4,633.6 277.8,632.6 279.1,631.6 C280.4,630.6 281.8,629.5 283.1,628.5 C284.4,627.5 285.8,626.5 287.1,625.4 C288.4,624.4 289.8,623.4 291.1,622.3 C292.4,621.3 293.8,620.2 295.1,619.2 C296.4,618.1 297.8,617.1 299.1,616.0 C300.4,615.0 301.8,613.9 303.1,612.8 C304.4,611.7 305.8,610.7 307.1,609.6 C308.4,608.5 309.8,607.4 311.1,606.3 C312.4,605.2 313.8,604.2 315.1,603.1 C316.4,602.0 317.8,600.9 319.1,599.8 C320.4,598.7 321.8,597.6 323.1,596.5 C324.4,595.4 325.8,594.3 327.1,593.1 C328.4,592.0 329.8,590.9 331.1,589.8 C332.4,588.7 333.8,587.6 335.1,586.5 C336.4,585.4 337.8,584.3 339.1,583.1 C340.4,582.0 341.8,580.9 343.1,579.8 C344.4,578.7 345.8,577.6 347.1,576.5 C348.4,575.3 349.8,574.2 351.1,573.1 C352.4,572.0 353.8,570.9 355.1,569.8 C356.4,568.7 357.8,567.6 359.1,566.4 C360.4,565.3 361.8,564.2 363.1,563.1 C364.4,562.0 365.8,560.9 367.1,559.8 C368.4,558.7 369.8,557.6 371.1,556.5 C372.4,555.4 373.8,554.3 375.1,553.2 C376.4,552.2 377.8,551.1 379.1,550.0 C380.4,548.9 381.8,547.8 383.1,546.7 C384.4,545.6 385.8,544.6 387.1,543.5 C388.4,542.4 389.8,541.3 391.1,540.3 C392.4,539.2 393.8,538.1 395.1,537.0 C396.4,536.0 397.8,534.9 399.1,533.8 C400.4,532.8 401.8,531.7 403.1,530.7 C404.4,529.6 405.8,528.5 407.1,527.5 C408.4,526.4 409.8,525.4 411.1,524.3 C412.4,523.3 413.8,522.2 415.1,521.2 C416.4,520.1 417.8,519.1 419.1,518.1 C420.4,517.0 421.8,516.0 423.1,514.9 C424.4,513.9 425.8,512.9 427.1,511.8 C428.4,510.8 429.8,509.8 431.1,508.7 C432.4,507.7 433.8,506.7 435.1,505.7 C436.4,504.6 437.8,503.6 439.1,502.6 C440.4,501.6 441.8,500.6 443.1,499.5 C444.4,498.5 445.8,497.5 447.1,496.5 C448.4,495.5 449.8,494.5 451.1,493.5 C452.4,492.5 453.8,491.5 455.1,490.5 C456.4,489.5 457.8,488.5 459.1,487.5 C460.4,486.5 461.8,485.5 463.1,484.5 C464.4,483.5 465.8,482.5 467.1,481.5 C468.4,480.5 469.8,479.5 471.1,478.5 C472.4,477.5 473.8,476.6 475.1,475.6 C476.4,474.6 477.8,473.6 479.1,472.6 C480.4,471.7 481.8,470.7 483.1,469.7 C484.4,468.7 485.8,467.8 487.1,466.8 C488.4,465.8 489.8,464.9 491.1,463.9 C492.4,462.9 493.8,462.0 495.1,461.0 C496.4,460.1 497.8,459.1 499.1,458.1 C500.4,457.2 501.8,456.2 503.1,455.3 C504.4,454.3 505.8,453.4 507.1,452.4 C508.4,451.5 509.8,450.5 511.1,449.6 C512.4,448.7 513.8,447.7 515.1,446.8 C516.4,445.8 517.8,444.9 519.1,444.0 C520.4,443.0 521.8,442.1 523.1,441.2 C524.4,440.2 525.8,439.3 527.1,438.4 C528.4,437.4 529.8,436.5 531.1,435.6 C532.4,434.7 533.8,433.8 535.1,432.8 C536.4,431.9 537.8,431.0 539.1,430.1 C540.4,429.2 541.8,428.3 543.1,427.4 C544.4,426.5 545.8,425.6 547.1,424.6 C548.4,423.7 549.8,422.8 551.1,422.0 C552.4,421.1 553.8,420.2 555.1,419.3 C556.4,418.4 557.8,417.5 559.1,416.6 C560.4,415.7 561.8,414.9 563.1,414.0 C564.4,413.1 565.8,412.2 567.1,411.4 C568.4,410.5 569.8,409.6 571.1,408.8 C572.4,407.9 573.8,407.0 575.1,406.2 C576.4,405.3 577.8,404.5 579.1,403.7 C580.4,402.8 581.8,402.0 583.1,401.1 C584.4,400.3 585.8,399.5 587.1,398.6 C588.4,397.8 589.8,397.0 591.1,396.2 C592.4,395.4 593.8,394.6 595.1,393.7 C596.4,392.9 597.8,392.1 599.1,391.3 C600.4,390.5 601.8,389.8 603.1,389.0 C604.4,388.2 605.8,387.4 607.1,386.6 C608.4,385.9 609.8,385.1 611.1,384.3 C612.4,383.6 613.8,382.8 615.1,382.1 C616.4,381.3 617.8,380.6 619.1,379.8 C620.4,379.1 621.8,378.3 623.1,377.6 C624.4,376.9 625.8,376.2 627.1,375.5 C628.4,374.7 629.8,374.0 631.1,373.3 C632.4,372.6 633.8,371.9 635.1,371.3 C636.4,370.6 637.8,369.9 639.1,369.2 C640.4,368.5 641.8,367.9 643.1,367.2 C644.4,366.6 645.8,365.9 647.1,365.3 C648.4,364.6 649.8,364.0 651.1,363.3 C652.4,362.7 653.8,362.1 655.1,361.5 C656.4,360.9 657.8,360.3 659.1,359.7 C660.4,359.1 661.8,358.5 663.1,357.9 C664.4,357.3 665.8,356.7 667.1,356.2 C668.4,355.6 669.8,355.0 671.1,354.5 C672.4,353.9 673.8,353.4 675.1,352.9 C676.4,352.3 677.8,351.8 679.1,351.3 C680.4,350.8 682.1,350.2 683.1,349.8 C684.1,349.4 685.0,349.1 685.4,348.9" fill="none" stroke="#0000ff" stroke-width="2.45" stroke-linejoin="round"/>
<path d="M163.0,779.6 C163.6,780.5 165.4,783.5 166.5,785.0 C167.6,786.5 168.6,793.0 169.4,788.8 C170.2,784.6 170.8,769.8 171.5,760.0 C172.2,750.2 172.9,737.5 173.5,730.0 C174.1,722.5 174.6,719.6 175.0,715.0 C175.4,710.4 175.3,706.5 175.7,702.1 C176.1,697.7 176.8,693.2 177.4,688.7 C178.0,684.2 178.7,679.8 179.1,675.3 C179.5,670.8 179.8,666.4 180.1,661.9 C180.4,657.4 180.7,652.4 181.1,648.5 C181.5,644.6 181.8,641.8 182.4,638.5 C183.0,635.2 183.6,631.4 184.4,628.5 C185.2,625.6 186.0,623.6 187.1,621.3 C188.2,619.0 189.8,616.9 191.1,614.7 C192.4,612.6 193.8,610.4 195.1,608.3 C196.4,606.2 197.8,604.0 199.1,602.0 C200.4,599.9 201.8,597.8 203.1,595.8 C204.4,593.7 205.8,591.7 207.1,589.7 C208.4,587.6 209.8,585.6 211.1,583.6 C212.4,581.7 213.8,579.7 215.1,577.7 C216.4,575.8 217.8,573.8 219.1,571.9 C220.4,569.9 221.8,568.0 223.1,566.1 C224.4,564.2 225.8,562.2 227.1,560.3 C228.4,558.4 229.8,556.5 231.1,554.6 C232.4,552.7 233.8,550.8 235.1,548.9 C236.4,547.1 237.8,545.2 239.1,543.3 C240.4,541.4 241.8,539.5 243.1,537.6 C244.4,535.7 245.8,533.9 247.1,532.0 C248.4,530.1 249.8,528.2 251.1,526.3 C252.4,524.4 253.8,522.5 255.1,520.6 C256.4,518.7 257.8,516.8 259.1,515.0 C260.4,513.1 261.8,511.2 263.1,509.3 C264.4,507.4 265.8,505.5 267.1,503.6 C268.4,501.8 269.8,499.9 271.1,498.0 C272.4,496.1 273.8,494.2 275.1,492.4 C276.4,490.5 277.8,488.6 279.1,486.7 C280.4,484.9 281.8,483.0 283.1,481.1 C284.4,479.3 285.8,477.4 287.1,475.6 C288.4,473.7 289.8,471.9 291.1,470.0 C292.4,468.2 293.8,466.3 295.1,464.5 C296.4,462.7 297.8,460.8 299.1,459.0 C300.4,457.2 301.8,455.4 303.1,453.6 C304.4,451.7 305.8,449.9 307.1,448.1 C308.4,446.3 309.8,444.5 311.1,442.8 C312.4,441.0 313.8,439.2 315.1,437.4 C316.4,435.6 317.8,433.9 319.1,432.1 C320.4,430.4 321.8,428.6 323.1,426.9 C324.4,425.1 325.8,423.4 327.1,421.7 C328.4,420.0 329.8,418.3 331.1,416.6 C332.4,414.8 333.8,413.2 335.1,411.5 C336.4,409.8 337.8,408.1 339.1,406.4 C340.4,404.8 341.8,403.1 343.1,401.5 C344.4,399.8 345.8,398.2 347.1,396.6 C348.4,395.0 349.8,393.4 351.1,391.8 C352.4,390.2 353.8,388.6 355.1,387.0 C356.4,385.4 357.8,383.8 359.1,382.3 C360.4,380.7 361.8,379.2 363.1,377.6 C364.4,376.1 365.8,374.6 367.1,373.1 C368.4,371.5 369.8,370.0 371.1,368.5 C372.4,367.0 373.8,365.6 375.1,364.1 C376.4,362.6 377.8,361.1 379.1,359.7 C380.4,358.2 381.8,356.8 383.1,355.3 C384.4,353.9 385.8,352.5 387.1,351.1 C388.4,349.7 389.8,348.3 391.1,346.9 C392.4,345.5 393.8,344.1 395.1,342.7 C396.4,341.3 397.8,340.0 399.1,338.6 C400.4,337.3 401.8,335.9 403.1,334.6 C404.4,333.2 405.8,331.9 407.1,330.6 C408.4,329.3 409.8,328.0 411.1,326.7 C412.4,325.4 413.8,324.1 415.1,322.8 C416.4,321.6 417.8,320.3 419.1,319.0 C420.4,317.8 421.8,316.5 423.1,315.3 C424.4,314.1 425.8,312.8 427.1,311.6 C428.4,310.4 429.8,309.2 431.1,308.0 C432.4,306.8 433.8,305.6 435.1,304.4 C436.4,303.2 437.8,302.1 439.1,300.9 C440.4,299.8 441.8,298.6 443.1,297.5 C444.4,296.3 445.8,295.2 447.1,294.1 C448.4,292.9 449.8,291.8 451.1,290.7 C452.4,289.6 453.8,288.5 455.1,287.5 C456.4,286.4 457.8,285.3 459.1,284.2 C460.4,283.2 461.8,282.1 463.1,281.1 C464.4,280.0 465.8,279.0 467.1,277.9 C468.4,276.9 469.8,275.9 471.1,274.9 C472.4,273.9 473.8,272.9 475.1,271.9 C476.4,270.9 477.8,269.9 479.1,268.9 C480.4,268.0 481.8,267.0 483.1,266.0 C484.4,265.1 485.8,264.1 487.1,263.2 C488.4,262.3 489.8,261.3 491.1,260.4 C492.4,259.5 493.8,258.6 495.1,257.7 C496.4,256.8 497.8,255.9 499.1,255.0 C500.4,254.1 501.8,253.2 503.1,252.4 C504.4,251.5 505.8,250.6 507.1,249.8 C508.4,248.9 509.8,248.1 511.1,247.3 C512.4,246.4 513.8,245.6 515.1,244.8 C516.4,244.0 517.8,243.2 519.1,242.4 C520.4,241.6 521.8,240.8 523.1,240.0 C524.4,239.2 525.8,238.5 527.1,237.7 C528.4,236.9 530.4,235.8 531.1,235.4 C531.8,235.1 531.2,235.4 531.2,235.4" fill="none" stroke="#000000" stroke-width="2.6" stroke-linejoin="round" stroke-dasharray="12.5 15.101" stroke-dashoffset="27.41"/>
<path d="M163.0,779.6 C163.6,780.5 165.4,783.5 166.5,785.0 C167.6,786.5 168.6,793.0 169.4,788.8 C170.2,784.6 170.8,769.8 171.5,760.0 C172.2,750.2 172.9,737.5 173.5,730.0 C174.1,722.5 174.6,719.6 175.0,715.0 C175.4,710.4 175.3,706.5 175.7,702.1 C176.1,697.7 176.8,693.2 177.4,688.7 C178.0,684.2 178.7,679.8 179.1,675.3 C179.5,670.8 179.8,666.4 180.1,661.9 C180.4,657.4 180.7,652.4 181.1,648.5 C181.5,644.6 181.8,641.8 182.4,638.5 C183.0,635.2 183.6,631.3 184.4,628.5 C185.2,625.7 186.0,624.0 187.1,621.7 C188.2,619.4 189.8,616.7 191.1,614.5 C192.4,612.2 193.8,610.1 195.1,608.0 C196.4,605.9 197.8,604.0 199.1,602.0 C200.4,600.1 201.8,598.2 203.1,596.2 C204.4,594.3 205.8,592.4 207.1,590.5 C208.4,588.6 209.8,586.6 211.1,584.7 C212.4,582.8 213.8,580.9 215.1,578.9 C216.4,577.0 217.8,575.1 219.1,573.2 C220.4,571.3 221.8,569.4 223.1,567.5 C224.4,565.6 225.8,563.7 227.1,561.8 C228.4,559.9 229.8,558.1 231.1,556.2 C232.4,554.4 233.8,552.5 235.1,550.7 C236.4,548.8 237.8,547.0 239.1,545.2 C240.4,543.4 241.8,541.6 243.1,539.8 C244.4,538.0 245.8,536.2 247.1,534.4 C248.4,532.6 249.8,530.8 251.1,529.1 C252.4,527.3 253.8,525.5 255.1,523.8 C256.4,522.0 257.8,520.2 259.1,518.5 C260.4,516.7 261.8,515.0 263.1,513.3 C264.4,511.5 265.8,509.8 267.1,508.1 C268.4,506.3 269.8,504.6 271.1,502.9 C272.4,501.1 273.8,499.4 275.1,497.7 C276.4,496.0 277.8,494.2 279.1,492.5 C280.4,490.8 281.8,489.1 283.1,487.3 C284.4,485.6 285.8,483.9 287.1,482.2 C288.4,480.4 289.8,478.7 291.1,477.0 C292.4,475.2 293.8,473.5 295.1,471.8 C296.4,470.0 297.8,468.3 299.1,466.6 C300.4,464.8 301.8,463.1 303.1,461.3 C304.4,459.6 305.8,457.8 307.1,456.1 C308.4,454.3 309.8,452.5 311.1,450.8 C312.4,449.0 313.8,447.3 315.1,445.5 C316.4,443.8 317.8,442.1 319.1,440.3 C320.4,438.6 321.8,436.8 323.1,435.1 C324.4,433.4 325.8,431.7 327.1,430.0 C328.4,428.3 329.8,426.6 331.1,424.9 C332.4,423.2 333.8,421.6 335.1,419.9 C336.4,418.3 337.8,416.6 339.1,415.0 C340.4,413.4 341.8,411.8 343.1,410.2 C344.4,408.6 345.8,407.0 347.1,405.5 C348.4,403.9 349.8,402.4 351.1,400.9 C352.4,399.4 353.8,397.9 355.1,396.5 C356.4,395.0 357.8,393.6 359.1,392.2 C360.4,390.8 361.8,389.4 363.1,388.0 C364.4,386.7 365.8,385.3 367.1,384.0 C368.4,382.6 369.8,381.3 371.1,380.0 C372.4,378.7 373.8,377.4 375.1,376.1 C376.4,374.8 377.8,373.5 379.1,372.2 C380.4,370.9 381.8,369.7 383.1,368.4 C384.4,367.1 385.8,365.9 387.1,364.6 C388.4,363.4 389.8,362.1 391.1,360.9 C392.4,359.6 393.8,358.4 395.1,357.2 C396.4,355.9 397.8,354.7 399.1,353.5 C400.4,352.3 401.8,351.0 403.1,349.8 C404.4,348.6 405.8,347.4 407.1,346.2 C408.4,345.0 409.8,343.8 411.1,342.6 C412.4,341.5 413.8,340.3 415.1,339.1 C416.4,337.9 417.8,336.8 419.1,335.6 C420.4,334.4 421.8,333.3 423.1,332.1 C424.4,331.0 425.8,329.9 427.1,328.7 C428.4,327.6 429.8,326.5 431.1,325.3 C432.4,324.2 433.8,323.1 435.1,322.0 C436.4,320.9 437.8,319.8 439.1,318.7 C440.4,317.6 441.8,316.5 443.1,315.4 C444.4,314.3 445.8,313.3 447.1,312.2 C448.4,311.1 449.8,310.1 451.1,309.0 C452.4,308.0 453.8,306.9 455.1,305.9 C456.4,304.9 457.8,303.8 459.1,302.8 C460.4,301.8 461.8,300.8 463.1,299.8 C464.4,298.8 465.8,297.8 467.1,296.8 C468.4,295.8 469.8,294.8 471.1,293.9 C472.4,292.9 473.8,291.9 475.1,291.0 C476.4,290.0 477.8,289.1 479.1,288.1 C480.4,287.2 481.8,286.3 483.1,285.3 C484.4,284.4 485.8,283.5 487.1,282.6 C488.4,281.7 489.8,280.8 491.1,279.9 C492.4,279.1 493.8,278.2 495.1,277.3 C496.4,276.5 497.8,275.6 499.1,274.8 C500.4,273.9 501.8,273.1 503.1,272.3 C504.4,271.4 505.8,270.6 507.1,269.8 C508.4,269.0 509.8,268.2 511.1,267.5 C512.4,266.7 513.8,265.9 515.1,265.1 C516.4,264.4 517.8,263.6 519.1,262.9 C520.4,262.2 521.8,261.4 523.1,260.7 C524.4,260.0 525.8,259.3 527.1,258.6 C528.4,257.9 529.8,257.2 531.1,256.5 C532.4,255.9 533.8,255.2 535.1,254.5 C536.4,253.9 537.8,253.3 539.1,252.6 C540.4,252.0 541.8,251.4 543.1,250.8 C544.4,250.2 545.8,249.6 547.1,249.0 C548.4,248.5 550.1,247.8 550.7,247.5" fill="none" stroke="#0000ff" stroke-width="2.45" stroke-linejoin="round"/>
<rect x="157.0" y="41.7" width="877.0" height="753.8" fill="none" stroke="#000" stroke-width="3.2"/>
<line x1="204.00" y1="1612.80" x2="211.50" y2="1612.80" stroke="#000" stroke-width="2.6" />
<line x1="204.00" y1="1563.30" x2="219.00" y2="1563.30" stroke="#000" stroke-width="2.6" />
<line x1="204.00" y1="1513.80" x2="211.50" y2="1513.80" stroke="#000" stroke-width="2.6" />
<line x1="204.00" y1="1464.30" x2="219.00" y2="1464.30" stroke="#000" stroke-width="2.6" />
<line x1="204.00" y1="1414.80" x2="211.50" y2="1414.80" stroke="#000" stroke-width="2.6" />
<line x1="204.00" y1="1365.30" x2="219.00" y2="1365.30" stroke="#000" stroke-width="2.6" />
<line x1="204.00" y1="1315.80" x2="211.50" y2="1315.80" stroke="#000" stroke-width="2.6" />
<line x1="204.00" y1="1266.30" x2="219.00" y2="1266.30" stroke="#000" stroke-width="2.6" />
<line x1="204.00" y1="1216.80" x2="211.50" y2="1216.80" stroke="#000" stroke-width="2.6" />
<line x1="204.00" y1="1167.30" x2="219.00" y2="1167.30" stroke="#000" stroke-width="2.6" />
<line x1="204.00" y1="1117.80" x2="211.50" y2="1117.80" stroke="#000" stroke-width="2.6" />
<line x1="204.00" y1="1068.30" x2="219.00" y2="1068.30" stroke="#000" stroke-width="2.6" />
<line x1="204.00" y1="1018.80" x2="211.50" y2="1018.80" stroke="#000" stroke-width="2.6" />
<line x1="971.20" y1="1604.55" x2="963.70" y2="1604.55" stroke="#000" stroke-width="2.6" />
<line x1="971.20" y1="1546.80" x2="956.20" y2="1546.80" stroke="#000" stroke-width="2.6" />
<line x1="971.20" y1="1489.05" x2="963.70" y2="1489.05" stroke="#000" stroke-width="2.6" />
<line x1="971.20" y1="1431.30" x2="956.20" y2="1431.30" stroke="#000" stroke-width="2.6" />
<line x1="971.20" y1="1373.55" x2="963.70" y2="1373.55" stroke="#000" stroke-width="2.6" />
<line x1="971.20" y1="1315.80" x2="956.20" y2="1315.80" stroke="#000" stroke-width="2.6" />
<line x1="971.20" y1="1258.05" x2="963.70" y2="1258.05" stroke="#000" stroke-width="2.6" />
<line x1="971.20" y1="1200.30" x2="956.20" y2="1200.30" stroke="#000" stroke-width="2.6" />
<line x1="971.20" y1="1142.55" x2="963.70" y2="1142.55" stroke="#000" stroke-width="2.6" />
<line x1="971.20" y1="1084.80" x2="956.20" y2="1084.80" stroke="#000" stroke-width="2.6" />
<line x1="971.20" y1="1027.05" x2="963.70" y2="1027.05" stroke="#000" stroke-width="2.6" />
<line x1="331.87" y1="1662.30" x2="331.87" y2="1647.30" stroke="#000" stroke-width="2.6" />
<line x1="459.73" y1="1662.30" x2="459.73" y2="1654.80" stroke="#000" stroke-width="2.6" />
<line x1="587.60" y1="1662.30" x2="587.60" y2="1647.30" stroke="#000" stroke-width="2.6" />
<line x1="715.47" y1="1662.30" x2="715.47" y2="1654.80" stroke="#000" stroke-width="2.6" />
<line x1="843.33" y1="1662.30" x2="843.33" y2="1647.30" stroke="#000" stroke-width="2.6" />
<text transform="translate(187.20,1675.10) scale(1,1.04)" font-size="45.3" text-anchor="end" fill="#000" stroke-width="0.0">20</text>
<text transform="translate(187.20,1576.10) scale(1,1.04)" font-size="45.3" text-anchor="end" fill="#000" stroke-width="0.0">40</text>
<text transform="translate(187.20,1477.10) scale(1,1.04)" font-size="45.3" text-anchor="end" fill="#000" stroke-width="0.0">60</text>
<text transform="translate(187.20,1378.10) scale(1,1.04)" font-size="45.3" text-anchor="end" fill="#000" stroke-width="0.0">80</text>
<text transform="translate(187.20,1279.10) scale(1,1.04)" font-size="45.3" text-anchor="end" fill="#000" stroke-width="0.0">100</text>
<text transform="translate(187.20,1180.10) scale(1,1.04)" font-size="45.3" text-anchor="end" fill="#000" stroke-width="0.0">120</text>
<text transform="translate(187.20,1081.10) scale(1,1.04)" font-size="45.3" text-anchor="end" fill="#000" stroke-width="0.0">140</text>
<text transform="translate(187.20,982.10) scale(1,1.04)" font-size="45.3" text-anchor="end" fill="#000" stroke-width="0.0">160</text>
<text transform="translate(987.20,1675.10) scale(1,1.04)" font-size="45.3" text-anchor="start" fill="#000" stroke-width="0.0">0.1</text>
<text transform="translate(987.20,1559.60) scale(1,1.04)" font-size="45.3" text-anchor="start" fill="#000" stroke-width="0.0">0.2</text>
<text transform="translate(987.20,1444.10) scale(1,1.04)" font-size="45.3" text-anchor="start" fill="#000" stroke-width="0.0">0.3</text>
<text transform="translate(987.20,1328.60) scale(1,1.04)" font-size="45.3" text-anchor="start" fill="#000" stroke-width="0.0">0.4</text>
<text transform="translate(987.20,1213.10) scale(1,1.04)" font-size="45.3" text-anchor="start" fill="#000" stroke-width="0.0">0.5</text>
<text transform="translate(987.20,1097.60) scale(1,1.04)" font-size="45.3" text-anchor="start" fill="#000" stroke-width="0.0">0.6</text>
<text transform="translate(987.20,982.10) scale(1,1.04)" font-size="45.3" text-anchor="start" fill="#000" stroke-width="0.0">0.7</text>
<text transform="translate(331.87,1714.70) scale(1,1.04)" font-size="45.3" text-anchor="middle" fill="#000" stroke-width="0.0">4</text>
<text transform="translate(587.60,1714.70) scale(1,1.04)" font-size="45.3" text-anchor="middle" fill="#000" stroke-width="0.0">5</text>
<text transform="translate(843.33,1714.70) scale(1,1.04)" font-size="45.3" text-anchor="middle" fill="#000" stroke-width="0.0">6</text>
<text transform="translate(96.00,1545.80) rotate(-90) scale(1,1.04)" font-size="49.2" text-anchor="start" fill="#000" stroke-width="0.0">Elongation at break (%)</text>
<text transform="translate(1068.00,1069.10) rotate(90) scale(1,1.04)" font-size="49.6" text-anchor="start" fill="#000" stroke-width="0.0">Tensile strength (GPa)</text>
<text transform="translate(252.80,1776.50) scale(1,1.04)" font-size="57.3" text-anchor="start" fill="#000" stroke-width="0.0">Spinning velocity (km/min)</text>
<text transform="translate(246.8,1033.6) scale(1.025,1)" font-size="65.5" stroke-width="1.2">(b)</text>
<line x1="344.2" y1="1139.8" x2="575.2" y2="1329.1" stroke="#0000ff" stroke-width="2.6"/>
<line x1="602.4" y1="1345.2" x2="828.5" y2="1436.8" stroke="#0000ff" stroke-width="2.6"/>
<path d="M331.8,1092.0 V1167.2 M323.1,1092.0 H340.6 M323.1,1167.2 H340.6" fill="none" stroke="#5a5aff" stroke-width="1.8"/>
<path d="M587.6,1325.8 V1348.0 M578.9,1325.8 H596.4 M578.9,1348.0 H596.4" fill="none" stroke="#5a5aff" stroke-width="1.8"/>
<path d="M843.3,1436.0 V1449.0 M834.5,1436.0 H852.0 M834.5,1449.0 H852.0" fill="none" stroke="#5a5aff" stroke-width="1.8"/>
<path d="M331.8,1113.2 L317.6,1137.9 L346.1,1137.9 Z" fill="#fff" stroke="#0000ff" stroke-width="1.9" stroke-linejoin="miter"/>
<path d="M587.6,1322.7 L573.4,1347.4 L601.9,1347.4 Z" fill="#fff" stroke="#0000ff" stroke-width="1.9" stroke-linejoin="miter"/>
<path d="M843.3,1426.3 L829.0,1451.0 L857.5,1451.0 Z" fill="#fff" stroke="#0000ff" stroke-width="1.9" stroke-linejoin="miter"/>
<line x1="344.2" y1="1131.6" x2="575.2" y2="1349.0" stroke="#000000" stroke-width="2.6" stroke-dasharray="13 14.5" stroke-dashoffset="24.3"/>
<line x1="603.5" y1="1366.7" x2="827.4" y2="1453.2" stroke="#000000" stroke-width="2.6" stroke-dasharray="13 14.5" stroke-dashoffset="0"/>
<path d="M331.8,1075.0 V1167.0 M323.1,1075.0 H340.6 M323.1,1167.0 H340.6" fill="none" stroke="#505050" stroke-width="1.8"/>
<path d="M587.6,1336.1 V1385.3 M578.9,1336.1 H596.4 M578.9,1385.3 H596.4" fill="none" stroke="#505050" stroke-width="1.8"/>
<path d="M843.3,1446.8 V1471.9 M834.5,1446.8 H852.0 M834.5,1471.9 H852.0" fill="none" stroke="#505050" stroke-width="1.8"/>
<path d="M331.8,1103.5 L317.6,1128.2 L346.1,1128.2 Z" fill="#fff" stroke="#2a2a2a" stroke-width="1.9" stroke-linejoin="miter"/>
<path d="M587.6,1344.1 L573.4,1368.8 L601.9,1368.8 Z" fill="#fff" stroke="#2a2a2a" stroke-width="1.9" stroke-linejoin="miter"/>
<path d="M843.3,1442.8 L829.0,1467.5 L857.5,1467.5 Z" fill="#fff" stroke="#2a2a2a" stroke-width="1.9" stroke-linejoin="miter"/>
<line x1="343.1" y1="1345.6" x2="576.3" y2="1234.1" stroke="#0000ff" stroke-width="2.6"/>
<line x1="598.7" y1="1222.9" x2="832.2" y2="1101.8" stroke="#0000ff" stroke-width="2.6"/>
<path d="M331.8,1325.9 V1375.6 M323.1,1325.9 H340.6 M323.1,1375.6 H340.6" fill="none" stroke="#5a5aff" stroke-width="1.8"/>
<path d="M587.6,1139.7 V1318.2 M578.9,1139.7 H596.4 M578.9,1318.2 H596.4" fill="none" stroke="#5a5aff" stroke-width="1.8"/>
<path d="M843.3,1086.0 V1102.0 M834.5,1086.0 H852.0 M834.5,1102.0 H852.0" fill="none" stroke="#5a5aff" stroke-width="1.8"/>
<rect x="321.8" y="1341.0" width="20.0" height="20.0" fill="#fff" stroke="#0000ff" stroke-width="2.0"/>
<rect x="577.6" y="1218.7" width="20.0" height="20.0" fill="#fff" stroke="#0000ff" stroke-width="2.0"/>
<rect x="833.3" y="1086.0" width="20.0" height="20.0" fill="#fff" stroke="#0000ff" stroke-width="2.0"/>
<line x1="342.4" y1="1343.1" x2="577.0" y2="1194.9" stroke="#000000" stroke-width="2.6" stroke-dasharray="13 14.5" stroke-dashoffset="13.5"/>
<line x1="599.2" y1="1183.6" x2="831.7" y2="1091.2" stroke="#000000" stroke-width="2.6" stroke-dasharray="13 14.5" stroke-dashoffset="13.5"/>
<path d="M331.8,1330.6 V1370.8 M323.1,1330.6 H340.6 M323.1,1370.8 H340.6" fill="none" stroke="#505050" stroke-width="1.8"/>
<path d="M587.6,1167.7 V1210.3 M578.9,1167.7 H596.4 M578.9,1210.3 H596.4" fill="none" stroke="#505050" stroke-width="1.8"/>
<path d="M843.3,1063.8 V1110.7 M834.5,1063.8 H852.0 M834.5,1110.7 H852.0" fill="none" stroke="#505050" stroke-width="1.8"/>
<rect x="321.8" y="1339.8" width="20.0" height="20.0" fill="#fff" stroke="#2a2a2a" stroke-width="2.0"/>
<rect x="577.6" y="1178.2" width="20.0" height="20.0" fill="#fff" stroke="#2a2a2a" stroke-width="2.0"/>
<rect x="833.3" y="1076.6" width="20.0" height="20.0" fill="#fff" stroke="#2a2a2a" stroke-width="2.0"/>
<line x1="233.5" y1="1475.1" x2="262.5" y2="1475.1" stroke="#0000ff" stroke-width="4"/>
<line x1="293.5" y1="1475.1" x2="322.0" y2="1475.1" stroke="#0000ff" stroke-width="4"/>
<path d="M278.3,1457.9 L264.0,1482.7 L292.6,1482.7 Z" fill="#fff" stroke="#0000ff" stroke-width="1.9" stroke-linejoin="miter"/>
<line x1="233.5" y1="1522.0" x2="248.2" y2="1522.0" stroke="#000000" stroke-width="4"/>
<line x1="293.5" y1="1522.0" x2="308.9" y2="1522.0" stroke="#000000" stroke-width="4"/>
<path d="M278.3,1505.1 L264.0,1529.9 L292.6,1529.9 Z" fill="#fff" stroke="#2a2a2a" stroke-width="1.9" stroke-linejoin="miter"/>
<line x1="233.5" y1="1569.5" x2="322.0" y2="1569.5" stroke="#0000ff" stroke-width="4"/>
<rect x="267.5" y="1558.8" width="20.5" height="20.5" fill="#fff" stroke="#0000ff" stroke-width="2.2"/>
<line x1="233.5" y1="1616.2" x2="248.2" y2="1616.2" stroke="#000000" stroke-width="4"/>
<line x1="262.0" y1="1616.2" x2="268" y2="1616.2" stroke="#000000" stroke-width="4"/>
<line x1="287" y1="1616.2" x2="301.7" y2="1616.2" stroke="#000000" stroke-width="4"/>
<line x1="316.3" y1="1616.2" x2="319.3" y2="1616.2" stroke="#000000" stroke-width="4"/>
<rect x="267.5" y="1606.0" width="20.5" height="20.5" fill="#fff" stroke="#2a2a2a" stroke-width="2.2"/>
<text transform="translate(330.60,1488.20) scale(1,1.04)" font-size="39.0" text-anchor="start" fill="#000" stroke-width="0.0">Ti-PET</text>
<text transform="translate(331.80,1535.20) scale(1,1.04)" font-size="39.0" text-anchor="start" fill="#000" stroke-width="0.0">Sb-PET</text>
<text transform="translate(330.60,1582.20) scale(1,1.04)" font-size="39.0" text-anchor="start" fill="#000" stroke-width="0.0">Ti-PET</text>
<text transform="translate(331.80,1629.20) scale(1,1.04)" font-size="39.0" text-anchor="start" fill="#000" stroke-width="0.0">Sb-PET</text>
<rect x="204.0" y="969.3" width="767.2" height="693.0" fill="none" stroke="#000" stroke-width="3.4"/>
</svg>
</body></html>
